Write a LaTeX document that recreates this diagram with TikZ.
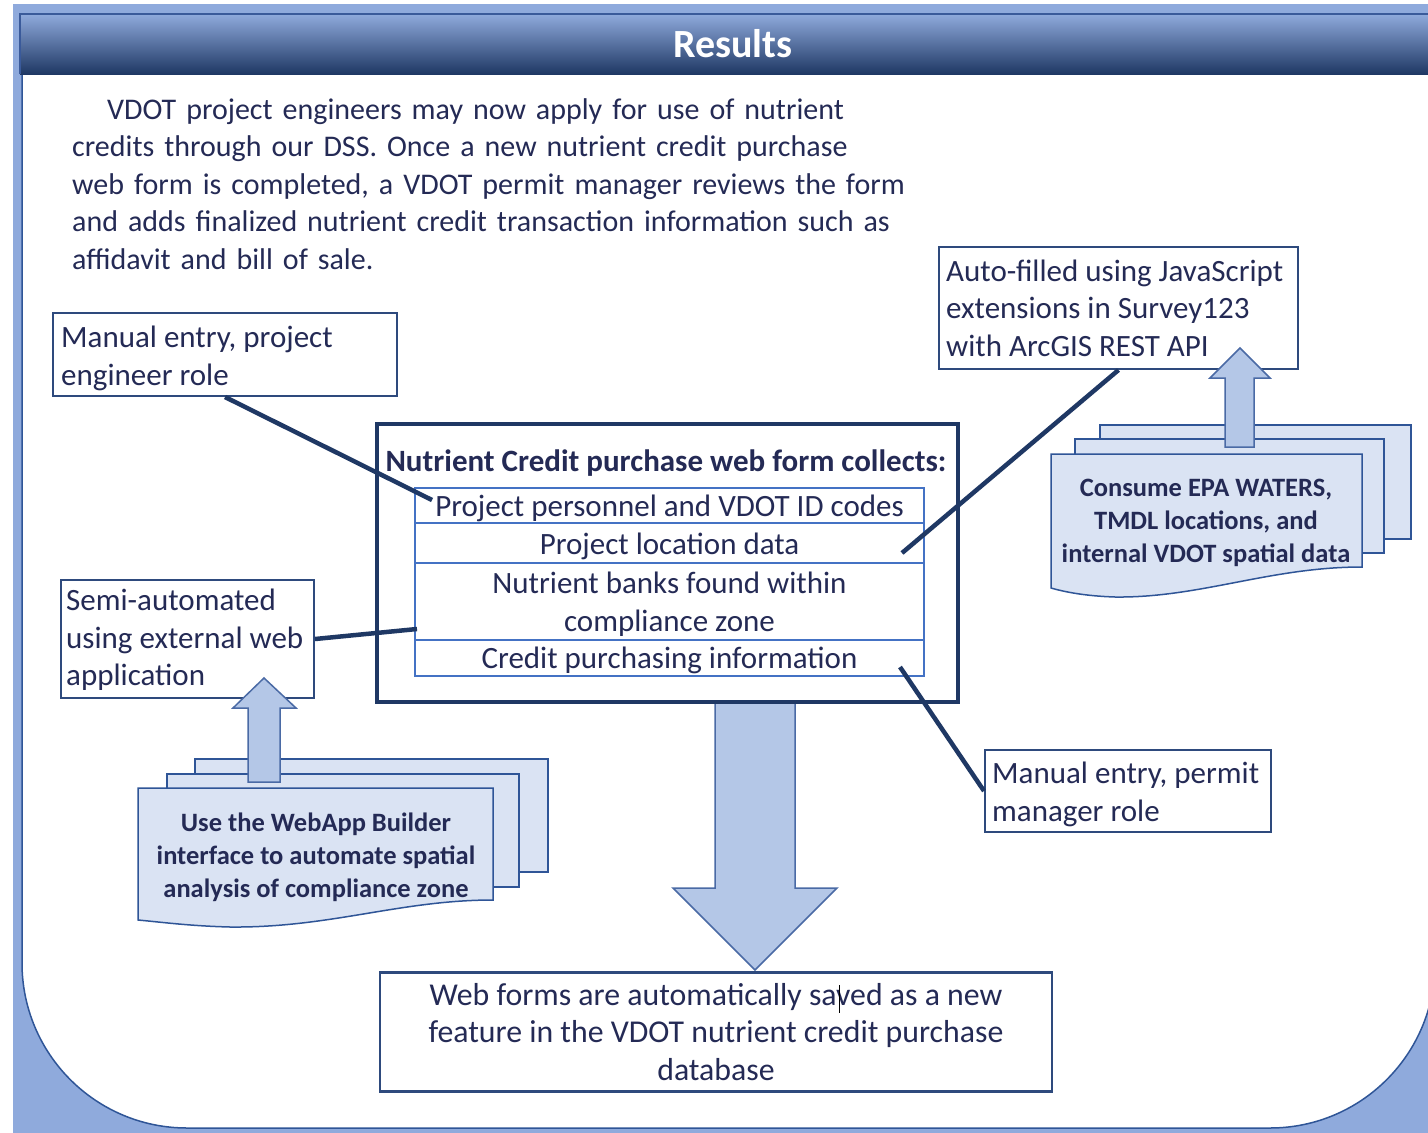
\documentclass[tikz,border=0pt]{standalone}
\usepackage{fontspec}
\setmainfont{Carlito}
\definecolor{bgblue}{HTML}{8FAADC}
\definecolor{panelc}{HTML}{2F5597}
\definecolor{hdtop}{HTML}{8FAADC}
\definecolor{hdmid}{HTML}{2F5597}
\definecolor{hdbot}{HTML}{1F3864}
\definecolor{hdline}{HTML}{3A5A9A}
\definecolor{textc}{HTML}{242A55}
\definecolor{callc}{HTML}{2E4A7D}
\definecolor{mainc}{HTML}{1F3864}
\definecolor{tablec}{HTML}{4472C4}
\definecolor{connc}{HTML}{1F3864}
\definecolor{docfill}{HTML}{DAE3F3}
\definecolor{docline}{HTML}{2F5597}
\definecolor{arrfill}{HTML}{B4C7E7}
\definecolor{arrline}{HTML}{4A6AA5}
\begin{document}
\begin{tikzpicture}[x=1pt,y=-1pt,
  bodyfont/.style={font=\fontsize{31}{37.5}\selectfont},
  callbox/.style={draw=callc, line width=2pt, fill=white, inner sep=0pt},
  calltext/.style={text=textc, font=\fontsize{31}{37.5}\selectfont, align=left, inner sep=0pt, anchor=west},
  cell/.style={draw=tablec, line width=1.8pt, minimum width=509, text=textc, bodyfont, align=center, inner sep=0pt},
  conn/.style={draw=connc, line width=4.5pt},
  docsheet/.style={fill=docfill, draw=docline, line width=1.5pt},
  doctext/.style={text=textc, font=\bfseries\fontsize{26.5}{33}\selectfont, align=center},
  blockarrow/.style={fill=arrfill, draw=arrline, line width=1.5pt, line join=miter}
]
\useasboundingbox (0,0) rectangle (1428,1133);
\clip (0,0) rectangle (1428,1133);
\fill[white] (0,0) rectangle (1428,1133);
\fill[bgblue] (13,4) rectangle (1428,1133);
% white panel
\filldraw[fill=white, draw=panelc, line width=1.5pt, rounded corners=165pt]
  (22,60) -- (22,1128) -- (1435,1128) -- (1435,60);
% header
\shade[top color=hdtop, middle color=hdmid, bottom color=hdbot] (20,14) rectangle (1445,74);
\draw[hdline, line width=2.5pt] (20,74) -- (20,14) -- (1445,14);
\node[text=white, font=\bfseries\fontsize{40}{48}\selectfont] (title) at (733,44) {Results};
% intro text
\node[anchor=north west, inner sep=0pt, text width=900, align=left, text=textc, font=\fontsize{30}{37.5}\selectfont] (intro) at (72,98)
 {\hspace*{35pt}VDOT project engineers may now apply for use of nutrient\\
  credits through our DSS. Once a new nutrient credit purchase\\
  web form is completed, a VDOT permit manager reviews the form\\
  and adds finalized nutrient credit transaction information such as\\
  affidavit and bill of sale.};
% callouts
\node[callbox, minimum width=344, minimum height=83] (eng) at (225,354.5) {};
\node[calltext] (engt) at ([xshift=9pt, yshift=-4pt]eng.west) {Manual entry, project\\engineer role};
\node[callbox, minimum width=253, minimum height=118] (semi) at (187.5,639) {};
\node[calltext] (semit) at ([xshift=6pt, yshift=-1pt]semi.west) {Semi-automated\\using external web\\application};
\node[callbox, minimum width=359, minimum height=122] (auto) at (1118.5,308) {};
\node[calltext] (autot) at ([xshift=8pt]auto.west) {Auto-filled using JavaScript\\extensions in Survey123\\with ArcGIS REST API};
\node[callbox, minimum width=286, minimum height=82] (permit) at (1128,791) {};
\node[calltext] (permitt) at ([xshift=8pt, yshift=-3.5pt]permit.west) {Manual entry, permit\\manager role};
% right document group
\draw[docsheet] (1100,425) rectangle (1411,539);
\draw[docsheet] (1075,439) rectangle (1384,553);
\draw[blockarrow] (1225,447) -- (1225,378) -- (1210,378) -- (1240,348) -- (1270,378) -- (1254,378) -- (1254,447) -- cycle;
\draw[docsheet] (1051,454) -- (1362,454) -- (1362,567)
  .. controls (1270,567) and (1200,598) .. (1115,597)
  .. controls (1085,596) and (1065,592) .. (1051,588) -- cycle;
\node[doctext] (rdoc) at (1206,523) {Consume EPA WATERS,\\TMDL locations, and\\internal VDOT spatial data};
% left document group
\draw[docsheet] (195,759) rectangle (548,872);
\draw[docsheet] (167,774) rectangle (519,887);
\draw[blockarrow] (248,782) -- (248,708) -- (233,708) -- (264,678) -- (296,708) -- (280,708) -- (280,782) -- cycle;
\draw[docsheet] (138,788) -- (493,788) -- (493,900)
  .. controls (400,900) and (330,928) .. (230,927)
  .. controls (190,926) and (160,922) .. (138,920) -- cycle;
\node[doctext] (ldoc) at (316,857) {Use the WebApp Builder\\interface to automate spatial\\analysis of compliance zone};
% big down arrow
\draw[blockarrow] (715,702) -- (715,888) -- (673,888) -- (755,970) -- (837,888) -- (795,888) -- (795,702);
% main form box
\node[draw=mainc, line width=4.5pt, minimum width=581, minimum height=278] (form) at (667.5,563) {};
\node[text=textc, font=\bfseries\fontsize{31}{36}\selectfont] (ftitle) at (666,463) {Nutrient Credit purchase web form collects:};
\node[cell, minimum height=35, text height=25, text depth=3] (r1) at (669.5,505.5) {Project personnel and VDOT ID codes};
\node[cell, minimum height=40, text height=25, text depth=3] (r2) at (669.5,543) {Project location data};
\node[cell, minimum height=77] (r3) at (669.5,601.5) {};
\node[text=textc, align=center, inner sep=0pt, font=\fontsize{31}{38}\selectfont] (r3t) at ([yshift=-3pt]r3.center) {Nutrient banks found within\\compliance zone};
\node[cell, minimum height=36, text height=24, text depth=4] (r4) at (669.5,658) {Credit purchasing information};
% bottom box
\node[draw=callc, line width=2.5pt, fill=white, minimum width=672, minimum height=119, align=center, text=textc, font=\fontsize{31.8}{37.5}\selectfont] (db) at (716,1032) {Web forms are automatically saved as a new\\feature in the VDOT nutrient credit purchase\\database};
\draw[black, line width=1pt] (839,985) -- (839,1013);
% connectors
\coordinate (c1) at (432,500);
\coordinate (c2) at (902,553);
\coordinate (c3) at (417,629);
\coordinate (c4) at (900,667);
\draw[conn] (eng.south) -- (c1);
\draw[conn] (auto.south) -- (c2);
\draw[conn] (semi.east) -- (c3);
\draw[conn] (c4) -- (permit.west);
\end{tikzpicture}
\end{document}
